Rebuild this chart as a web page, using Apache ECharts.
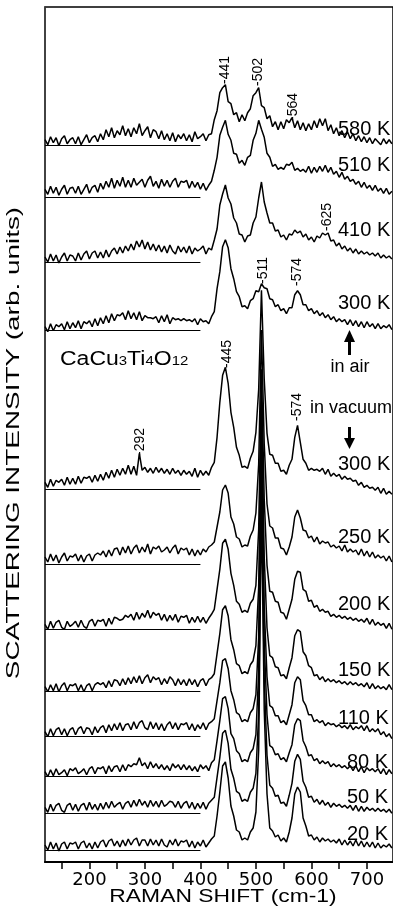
<!DOCTYPE html>
<html style="height: 100%">
<head>
    <meta charset="utf-8">
</head>
<body style="height: 100%; margin: 0; background: #fff">
    <div id="container" style="width: 393px; height: 922px"></div>
    <script src="https://cdn.jsdelivr.net/npm/echarts@6.0.0/dist/echarts.min.js"></script>
    <script>
        // Raman shift (cm-1), shared by all spectra
        var shift = [
            120, 125, 130, 135, 140, 145, 150, 155, 160, 165,
            170, 175, 180, 185, 190, 195, 200, 205, 210, 215,
            220, 225, 230, 235, 240, 245, 250, 255, 260, 265,
            270, 275, 280, 285, 290, 295, 300, 305, 310, 315,
            320, 325, 330, 335, 340, 345, 350, 355, 360, 365,
            370, 375, 380, 385, 390, 395, 400, 405, 410, 415,
            420, 425, 430, 435, 440, 445, 450, 455, 460, 465,
            470, 475, 480, 485, 490, 495, 500, 505, 510, 515,
            520, 525, 530, 535, 540, 545, 550, 555, 560, 565,
            570, 575, 580, 585, 590, 595, 600, 605, 610, 615,
            620, 625, 630, 635, 640, 645, 650, 655, 660, 665,
            670, 675, 680, 685, 690, 695, 700, 705, 710, 715,
            720, 725, 730, 735, 740, 745
        ];

        var temps = ['580 K', '510 K', '410 K', '300 K', '300 K', '250 K', '200 K', '150 K', '110 K', '80 K', '50 K', '20 K'];
        // vertical offset of each spectrum (its zero line)
        var offsets = [716.3, 664.7, 600, 531.3, 372.7, 298, 232.7, 170.3, 125.3, 85.3, 48.7, 12];

        var s580 = [
            6, 1, 9, 3, 8, 0, 7, 10, 2, 6,
            8, 2, 9, 1, 6, 11, 3, 8, 10, 4,
            12, 6, 16, 9, 18, 8, 15, 11, 20, 10,
            17, 9, 18, 12, 22, 10, 15, 19, 8, 16,
            14, 7, 15, 6, 12, 5, 13, 4, 11, 7,
            12, 5, 11, 4, 14, 7, 9, 12, 5, 11,
            12, 26, 35, 53, 58, 61, 44, 42, 31, 33,
            24, 31, 25, 33, 37, 50, 53, 58, 40, 38,
            27, 30, 19, 24, 16, 24, 17, 26, 23, 28,
            18, 25, 16, 23, 15, 22, 16, 25, 18, 27,
            20, 27, 15, 21, 12, 18, 10, 15, 8, 14,
            7, 12, 5, 10, 4, 9, 3, 8, 2, 7,
            4, 1, 7, 2, 6, 2
        ];
        var s510 = [
            8, 3, 11, 4, 10, 2, 8, 12, 3, 9,
            10, 4, 11, 3, 8, 13, 4, 10, 12, 5,
            14, 8, 16, 10, 19, 9, 17, 11, 20, 10,
            17, 10, 19, 12, 15, 18, 10, 17, 21, 11,
            16, 9, 18, 11, 17, 10, 16, 19, 10, 16,
            15, 17, 9, 16, 10, 15, 8, 14, 7, 12,
            16, 27, 40, 62, 70, 77, 63, 57, 44, 43,
            34, 37, 32, 40, 42, 57, 64, 77, 68, 60,
            44, 40, 31, 33, 28, 30, 28, 33, 32, 35,
            27, 29, 26, 28, 25, 31, 24, 30, 25, 31,
            26, 32, 25, 30, 23, 26, 20, 25, 18, 21,
            16, 18, 13, 16, 10, 15, 9, 12, 7, 12,
            6, 9, 4, 9, 3, 6
        ];
        var s410 = [
            5, 0, 8, 1, 7, -1, 5, 9, 1, 7,
            6, 1, 9, 2, 8, 11, 3, 9, 11, 4,
            10, 4, 12, 5, 11, 14, 8, 15, 9, 16,
            11, 18, 12, 21, 15, 22, 13, 20, 12, 18,
            11, 17, 10, 16, 9, 17, 11, 8, 16, 10,
            15, 9, 16, 8, 14, 11, 13, 16, 8, 14,
            12, 22, 33, 57, 68, 77, 64, 58, 44, 39,
            28, 27, 20, 26, 27, 39, 45, 64, 80, 60,
            49, 39, 39, 31, 32, 25, 27, 22, 28, 27,
            32, 29, 31, 25, 28, 22, 25, 20, 26, 24,
            29, 27, 29, 21, 22, 16, 19, 13, 16, 11,
            14, 9, 13, 8, 11, 8, 10, 7, 9, 6,
            9, 4, 7, 4, 6, 3
        ];
        var s300air = [
            4, -1, 7, 0, 6, 4, 7, 1, 9, 2,
            8, 3, 10, 2, 9, 7, 10, 4, 12, 5,
            13, 7, 15, 8, 17, 10, 16, 15, 18, 11,
            20, 12, 18, 11, 19, 10, 15, 13, 13, 12,
            14, 8, 15, 9, 16, 7, 13, 11, 12, 10,
            12, 10, 11, 9, 12, 6, 12, 9, 10, 7,
            14, 19, 42, 59, 84, 91, 83, 62, 52, 39,
            34, 24, 25, 22, 30, 32, 40, 39, 47, 43,
            42, 32, 31, 24, 26, 20, 22, 17, 23, 23,
            36, 40, 36, 26, 26, 20, 22, 17, 20, 15,
            18, 13, 16, 11, 14, 9, 12, 9, 11, 6,
            11, 5, 10, 4, 9, 3, 9, 4, 7, 2,
            7, 2, 5, 3, 6, 1
        ];
        var s300vac = [
            7, 2, 10, 3, 9, 7, 10, 4, 12, 5,
            11, 5, 13, 6, 12, 11, 13, 7, 14, 8,
            15, 9, 17, 11, 19, 12, 20, 14, 21, 15,
            24, 15, 23, 14, 36, 19, 22, 17, 21, 16,
            22, 17, 21, 16, 20, 15, 21, 16, 19, 14,
            19, 15, 18, 13, 21, 12, 19, 14, 18, 14,
            22, 27, 52, 87, 114, 122, 106, 77, 62, 42,
            34, 22, 23, 21, 31, 38, 57, 100, 199, 110,
            56, 35, 34, 26, 26, 18, 19, 15, 24, 30,
            52, 64, 47, 30, 26, 19, 21, 19, 20, 18,
            21, 15, 20, 13, 16, 13, 15, 10, 13, 10,
            11, 8, 9, 4, 7, 2, 4, 1, 2, -1,
            2, -4, 1, -5, -2, -5
        ];
        var s250 = [
            7, 2, 10, 3, 9, 1, 7, 11, 3, 8,
            7, 10, 3, 9, 2, 8, 10, 3, 9, 11,
            9, 13, 7, 14, 8, 15, 16, 9, 17, 11,
            18, 10, 16, 19, 11, 17, 12, 20, 10, 17,
            15, 18, 12, 14, 17, 11, 16, 19, 10, 16,
            14, 16, 9, 15, 8, 14, 9, 15, 12, 17,
            19, 22, 37, 52, 74, 79, 71, 47, 40, 27,
            25, 17, 19, 18, 28, 34, 51, 100, 234, 120,
            60, 38, 36, 26, 26, 16, 15, 9, 17, 27,
            47, 54, 46, 34, 33, 26, 28, 22, 27, 20,
            23, 21, 22, 17, 19, 16, 18, 13, 19, 12,
            15, 12, 14, 9, 15, 8, 13, 7, 12, 6,
            9, 6, 8, 3, 8, 2
        ];
        var s200 = [
            5, 0, 8, 1, 7, 9, 2, 0, 8, 3,
            5, 8, 2, 9, 3, 1, 8, 10, 3, 9,
            8, 10, 3, 11, 5, 12, 11, 9, 10, 14,
            12, 15, 9, 17, 10, 16, 12, 19, 11, 17,
            14, 16, 9, 15, 8, 14, 9, 15, 7, 13,
            12, 14, 6, 12, 7, 13, 7, 12, 6, 11,
            15, 20, 40, 60, 86, 90, 80, 56, 44, 28,
            25, 17, 19, 17, 26, 30, 44, 100, 260, 130,
            64, 38, 37, 28, 27, 17, 16, 10, 20, 30,
            50, 58, 57, 40, 38, 28, 29, 22, 24, 18,
            20, 17, 18, 13, 15, 12, 14, 11, 13, 10,
            12, 9, 11, 8, 10, 7, 11, 5, 10, 4,
            7, 4, 6, 1, 6, 0
        ];
        var s150 = [
            5, 0, 7, 1, 8, 0, 6, 9, 1, 7,
            6, 8, 1, 7, 0, 6, 8, 1, 7, 9,
            7, 9, 4, 11, 5, 12, 11, 6, 13, 7,
            14, 8, 15, 9, 16, 8, 14, 17, 9, 15,
            12, 14, 7, 13, 8, 15, 12, 6, 13, 7,
            12, 6, 13, 7, 12, 5, 11, 13, 6, 12,
            14, 18, 38, 58, 82, 86, 76, 52, 42, 28,
            26, 18, 20, 18, 27, 31, 46, 105, 290, 135,
            64, 36, 34, 25, 24, 16, 17, 13, 24, 34,
            56, 62, 60, 40, 36, 26, 24, 16, 17, 12,
            15, 10, 13, 10, 12, 9, 11, 8, 10, 7,
            10, 7, 9, 6, 8, 5, 9, 3, 8, 3,
            6, 3, 5, 2, 7, 2
        ];
        var s110 = [
            5, 0, 8, 1, 7, 9, 2, 8, 1, 7,
            9, 2, 8, 10, 3, 9, 8, 2, 10, 4,
            9, 11, 4, 12, 6, 13, 7, 14, 6, 12,
            13, 7, 15, 8, 14, 16, 9, 7, 15, 8,
            14, 7, 13, 6, 12, 15, 8, 14, 7, 13,
            12, 14, 7, 13, 6, 12, 8, 14, 7, 13,
            15, 18, 36, 54, 76, 78, 68, 46, 37, 24,
            22, 15, 17, 15, 24, 28, 42, 100, 310, 130,
            60, 31, 29, 21, 21, 14, 16, 12, 22, 32,
            54, 60, 57, 36, 31, 22, 22, 15, 17, 14,
            16, 11, 14, 12, 13, 10, 12, 9, 11, 8,
            12, 7, 10, 8, 11, 6, 11, 5, 8, 5,
            8, 2, 5, 0, 3, -2
        ];
        var s80 = [
            5, 0, 7, 1, 8, 2, 4, 7, 1, 8,
            6, 9, 3, 5, 8, 2, 8, 10, 3, 9,
            8, 10, 3, 11, 5, 10, 11, 5, 12, 6,
            12, 10, 13, 12, 19, 11, 14, 8, 15, 9,
            13, 8, 12, 7, 11, 6, 13, 9, 12, 7,
            12, 7, 11, 6, 10, 5, 12, 8, 11, 6,
            14, 17, 36, 56, 78, 80, 68, 43, 38, 26,
            23, 15, 17, 15, 24, 28, 42, 105, 330, 135,
            62, 31, 29, 22, 23, 17, 19, 15, 24, 32,
            52, 58, 56, 36, 30, 21, 22, 16, 18, 13,
            16, 13, 15, 10, 13, 10, 12, 9, 11, 8,
            11, 6, 11, 5, 10, 4, 9, 6, 8, 5,
            8, 3, 8, 2, 7, 3
        ];
        var s50 = [
            6, 1, 9, 2, 8, 10, 3, 1, 8, 10,
            3, 9, 2, 8, 10, 3, 11, 4, 9, 3,
            10, 4, 11, 5, 12, 6, 9, 11, 4, 10,
            12, 6, 13, 7, 14, 8, 12, 6, 13, 7,
            12, 6, 13, 7, 9, 12, 11, 6, 12, 5,
            10, 12, 5, 11, 4, 10, 5, 11, 4, 10,
            13, 16, 36, 56, 80, 83, 70, 44, 35, 22,
            20, 12, 14, 12, 21, 25, 40, 100, 340, 135,
            58, 28, 25, 17, 18, 10, 11, 7, 18, 30,
            52, 59, 54, 32, 26, 16, 17, 11, 14, 9,
            13, 8, 11, 6, 10, 7, 9, 6, 8, 5,
            8, 3, 8, 2, 7, 2, 6, 3, 5, 2,
            5, 2, 4, 1, 4, 0
        ];
        var s20 = [
            5, 0, 8, 1, 7, -1, 6, 8, 1, 7,
            6, 8, 1, 7, 9, 2, 7, 1, 8, 2,
            8, 10, 3, 9, 11, 4, 9, 3, 10, 4,
            11, 5, 10, 12, 4, 10, 10, 4, 11, 5,
            10, 4, 11, 5, 3, 10, 5, 11, 4, 9,
            8, 10, 3, 9, 2, 8, 4, 10, 3, 7,
            11, 14, 34, 58, 84, 88, 72, 44, 34, 20,
            18, 10, 12, 10, 18, 22, 38, 100, 350, 140,
            56, 22, 19, 13, 15, 9, 12, 8, 18, 32,
            56, 63, 58, 32, 24, 14, 15, 10, 13, 8,
            12, 9, 11, 8, 10, 7, 11, 5, 10, 5,
            9, 4, 10, 4, 9, 3, 8, 3, 8, 2,
            7, 2, 5, 3, 6, 2
        ];

        var tickValues = [150, 200, 250, 300, 350, 400, 450, 500, 550, 600, 650, 700];
        var labelValues = [200, 300, 400, 500, 600, 700];
        var peakLabels = ['441', '502', '564', '625', '511', '574', '445', '574', '292'];

        var spectra = [s580, s510, s410, s300air, s300vac, s250, s200, s150, s110, s80, s50, s20];

        var chartDom = document.getElementById('container');
        var myChart = echarts.init(chartDom);

        var series = spectra.map(function (vals, k) {
            return {
                name: temps[k] + ' #' + k,
                type: 'line',
                showSymbol: false,
                animation: false,
                emphasis: { disabled: true },
                lineStyle: { color: '#000', width: 1.5 },
                data: shift.map(function (x, i) { return [x, offsets[k] + vals[i]]; }),
                markLine: {
                    silent: true,
                    animation: false,
                    symbol: 'none',
                    label: { show: false },
                    lineStyle: { color: '#000', width: 1, type: 'solid' },
                    data: [[{ coord: [120, offsets[k]] }, { coord: [400, offsets[k]] }]]
                }
            };
        });

        // text placed on the picture
        var tempPos = [[338, 129], [338, 165], [338, 230], [338, 303], [338, 464], [338, 537],
            [338, 604], [338, 670], [338, 718], [347, 762], [347, 797], [347, 834]];
        var peakPos = [[225, 84], [258, 86], [293, 121], [327, 231], [263, 284], [297, 286],
            [227, 368], [297, 421], [140, 456]];

        var graphics = [];
        temps.forEach(function (t, k) {
            graphics.push({
                type: 'text', x: tempPos[k][0], y: tempPos[k][1], silent: true,
                style: { text: t, fill: '#000', fontSize: 20, fontFamily: 'Liberation Sans', verticalAlign: 'middle' }
            });
        });
        peakLabels.forEach(function (t, k) {
            graphics.push({
                type: 'text', x: peakPos[k][0], y: peakPos[k][1], rotation: Math.PI / 2, silent: true,
                style: { text: '-' + t, fill: '#000', fontSize: 14, fontFamily: 'Liberation Sans', align: 'left', verticalAlign: 'middle' }
            });
        });
        graphics.push(
            {
                type: 'text', x: 60, y: 361, scaleX: 1.15, silent: true,
                style: {
                    text: '{n|CaCu}{s|3}{n|Ti}{s|4}{n|O}{s|12}',
                    verticalAlign: 'middle',
                    rich: {
                        n: { fontSize: 20, fontFamily: 'Liberation Sans', fill: '#000', padding: [0, 0, 4, 0] },
                        s: { fontSize: 13, fontFamily: 'Liberation Sans', fill: '#000' }
                    }
                }
            },
            {
                type: 'text', x: 350, y: 367, silent: true,
                style: { text: 'in air', fill: '#000', fontSize: 18, fontFamily: 'Liberation Sans', align: 'center', verticalAlign: 'middle' }
            },
            {
                type: 'text', x: 310, y: 408, silent: true,
                style: { text: 'in vacuum', fill: '#000', fontSize: 18, fontFamily: 'Liberation Sans', align: 'left', verticalAlign: 'middle' }
            },
            // up arrow
            { type: 'rect', silent: true, shape: { x: 348, y: 341, width: 3, height: 14 }, style: { fill: '#000' } },
            { type: 'polygon', silent: true, shape: { points: [[344, 342], [355, 342], [349.5, 330]] }, style: { fill: '#000' } },
            // down arrow
            { type: 'rect', silent: true, shape: { x: 348, y: 427, width: 3, height: 12 }, style: { fill: '#000' } },
            { type: 'polygon', silent: true, shape: { points: [[344, 438], [355, 438], [349.5, 449]] }, style: { fill: '#000' } },
            // axis titles
            {
                type: 'text', x: 223, y: 897, scaleX: 1.27, silent: true,
                style: { text: 'RAMAN SHIFT (cm-1)', fill: '#000', fontSize: 18, fontFamily: 'Liberation Sans', align: 'center', verticalAlign: 'middle' }
            },
            {
                type: 'text', x: 14, y: 443, rotation: Math.PI / 2, scaleX: 1.55, silent: true,
                style: { text: 'SCATTERING INTENSITY (arb. units)', fill: '#000', fontSize: 18, fontFamily: 'Liberation Sans', align: 'center', verticalAlign: 'middle' }
            }
        );

        var option = {
            backgroundColor: '#fff',
            animation: false,
            grid: {
                left: 45, right: -2, top: 7, bottom: 60,
                show: true, borderColor: '#000', borderWidth: 1.5
            },
            xAxis: {
                type: 'value',
                min: 120,
                max: 747,
                splitLine: { show: false },
                axisLine: { lineStyle: { color: '#000', width: 2 } },
                axisTick: { show: true, customValues: tickValues, length: 7, lineStyle: { color: '#000', width: 1.5 } },
                axisLabel: {
                    customValues: labelValues, margin: 9, color: '#000',
                    fontSize: 18, fontFamily: 'DejaVu Sans'
                }
            },
            yAxis: {
                type: 'value',
                min: 0,
                max: 855,
                splitLine: { show: false },
                axisLabel: { show: false },
                axisTick: { show: false },
                axisLine: { show: true, lineStyle: { color: '#444', width: 1.5 } }
            },
            series: series,
            graphic: graphics
        };

        option && myChart.setOption(option);
    </script>
</body>
</html>
